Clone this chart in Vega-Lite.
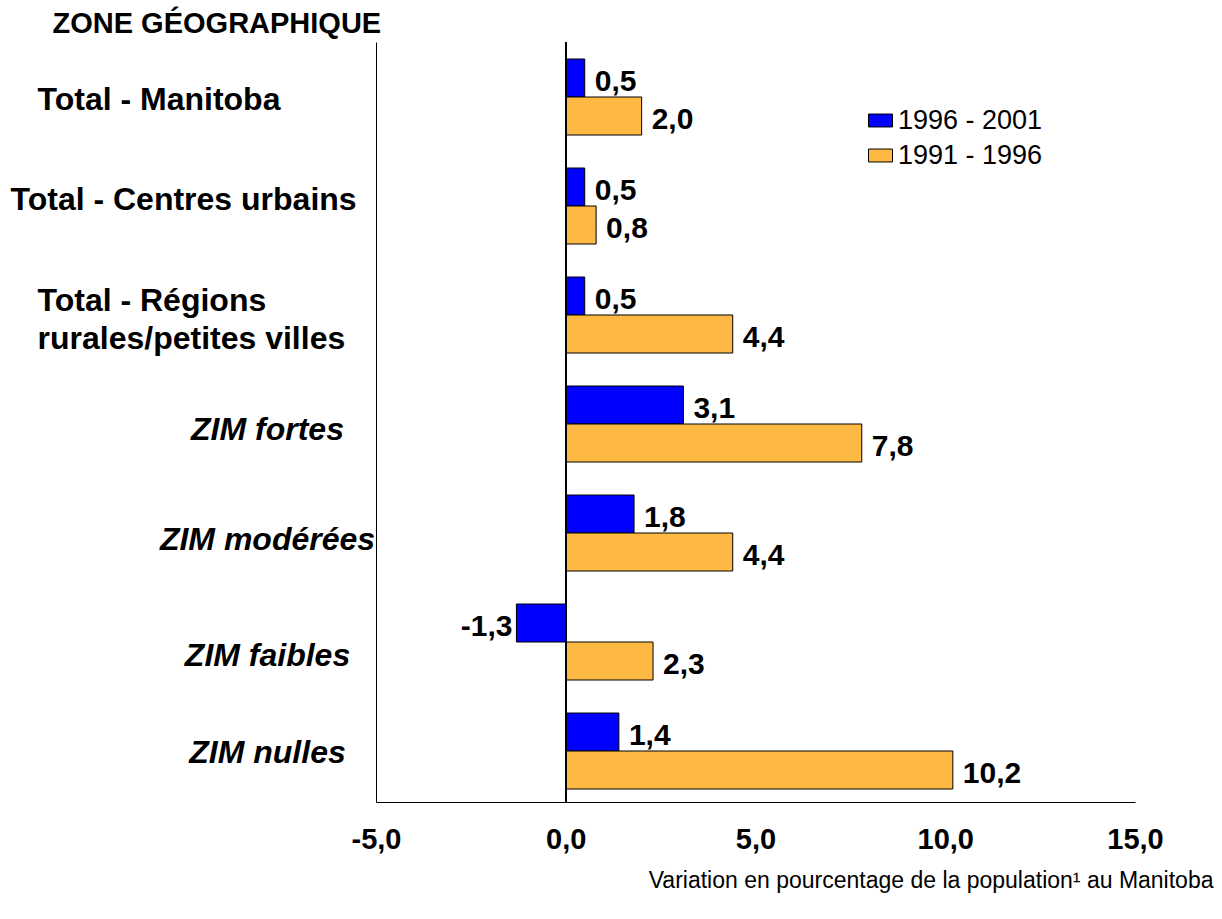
{
  "$schema": "https://vega.github.io/schema/vega-lite/v6.json",
  "autosize": "none",
  "padding": {"left": 376, "top": 42, "right": 87, "bottom": 117},
  "width": 759,
  "height": 760,
  "background": "white",
  "config": {
    "font": "Liberation Sans",
    "view": {"stroke": null},
    "locale": {"number": {"decimal": ",", "thousands": " ", "grouping": [3], "currency": ["", " €"], "minus": "-"}}
  },
  "data": {
    "values": [
      {"zone": "Total - Manitoba", "period": "1996 - 2001", "value": 0.5},
      {"zone": "Total - Manitoba", "period": "1991 - 1996", "value": 2.0},
      {"zone": "Total - Centres urbains", "period": "1996 - 2001", "value": 0.5},
      {"zone": "Total - Centres urbains", "period": "1991 - 1996", "value": 0.8},
      {"zone": "Total - Régions rurales/petites villes", "period": "1996 - 2001", "value": 0.5},
      {"zone": "Total - Régions rurales/petites villes", "period": "1991 - 1996", "value": 4.4},
      {"zone": "ZIM fortes", "period": "1996 - 2001", "value": 3.1},
      {"zone": "ZIM fortes", "period": "1991 - 1996", "value": 7.8},
      {"zone": "ZIM modérées", "period": "1996 - 2001", "value": 1.8},
      {"zone": "ZIM modérées", "period": "1991 - 1996", "value": 4.4},
      {"zone": "ZIM faibles", "period": "1996 - 2001", "value": -1.3},
      {"zone": "ZIM faibles", "period": "1991 - 1996", "value": 2.3},
      {"zone": "ZIM nulles", "period": "1996 - 2001", "value": 1.4},
      {"zone": "ZIM nulles", "period": "1991 - 1996", "value": 10.2}
    ]
  },
  "encoding": {
    "y": {
      "field": "zone",
      "type": "nominal",
      "sort": null,
      "scale": {"paddingInner": 0.3028, "paddingOuter": 0.1376, "align": 0.567},
      "axis": {
        "title": "ZONE GÉOGRAPHIQUE",
        "titleAngle": 0,
        "titleAlign": "left",
        "titleBaseline": "alphabetic",
        "titleX": -324,
        "titleY": -10,
        "titleFontSize": 29,
        "titleFontWeight": "bold",
        "titleColor": "black",
        "domainColor": "black",
        "domainWidth": 1,
        "ticks": false,
        "tickSize": 0,
        "labelFontSize": 32,
        "labelFontWeight": "bold",
        "labelColor": "black",
        "labelLimit": 500,
        "labelLineHeight": 38,
        "labelFontStyle": {"condition": {"test": "indexof(datum.value, 'ZIM') == 0", "value": "italic"}, "value": "normal"},
        "labelAlign": {"condition": {"test": "indexof(datum.value, 'ZIM') == 0", "value": "center"}, "value": "left"},
        "labelPadding": {"condition": [
          {"test": "indexof(datum.value, 'ZIM') == 0", "value": 109},
          {"test": "datum.value == 'Total - Centres urbains'", "value": 366}
        ], "value": 339},
        "labelOffset": {"condition": [
          {"test": "datum.value == 'Total - Centres urbains'", "value": -6},
          {"test": "datum.value == 'Total - Régions rurales/petites villes'", "value": -14},
          {"test": "datum.value == 'ZIM fortes'", "value": 6},
          {"test": "datum.value == 'ZIM modérées'", "value": 7},
          {"test": "datum.value == 'ZIM faibles'", "value": 14},
          {"test": "datum.value == 'ZIM nulles'", "value": 2},
          {"test": "datum.value == 'Total - Manitoba'", "value": 3}
        ], "value": 0},
        "labelExpr": "datum.value == 'Total - Régions rurales/petites villes' ? ['Total - Régions', 'rurales/petites villes'] : datum.label"
      }
    },
    "yOffset": {
      "field": "period",
      "type": "nominal",
      "sort": ["1996 - 2001", "1991 - 1996"],
      "scale": {"paddingInner": 0, "paddingOuter": 0}
    }
  },
  "layer": [
    {
      "mark": {"type": "bar", "stroke": "black", "strokeWidth": 1},
      "encoding": {
        "x": {
          "field": "value",
          "type": "quantitative",
          "scale": {"domain": [-5, 15], "nice": false, "zero": false},
          "axis": {
            "values": [-5, 0, 5, 10, 15],
            "format": ".1f",
            "grid": false,
            "ticks": false,
            "tickSize": 0,
            "domainColor": "black",
            "labelFontSize": 29,
            "labelFontWeight": "bold",
            "labelColor": "black",
            "labelPadding": 23,
            "labelFlush": false,
            "title": "Variation en pourcentage de la population¹ au Manitoba",
            "titleFontSize": 23,
            "titleFontWeight": "normal",
            "titleColor": "black",
            "titleAlign": "right",
            "titleBaseline": "alphabetic",
            "titleX": 837,
            "titleY": 85
          }
        },
        "color": {
          "field": "period",
          "type": "nominal",
          "scale": {"domain": ["1996 - 2001", "1991 - 1996"], "range": ["#0000FF", "#FDB944"]},
          "legend": {
            "title": null,
            "orient": "none",
            "legendX": 491,
            "legendY": 65,
            "padding": 0,
            "symbolType": "M-1,-0.54H1V0.54H-1Z",
            "symbolSize": 576,
            "symbolStrokeColor": "black",
            "symbolStrokeWidth": 1,
            "symbolOpacity": 1,
            "labelFontSize": 27,
            "labelColor": "black",
            "labelOffset": 4,
            "rowPadding": 7
          }
        }
      }
    },
    {
      "transform": [{"filter": "datum.value >= 0"}],
      "mark": {"type": "text", "align": "left", "baseline": "middle", "dx": 10, "dy": 4, "fontSize": 30, "fontWeight": "bold", "color": "black"},
      "encoding": {
        "x": {"field": "value", "type": "quantitative"},
        "text": {"field": "value", "type": "quantitative", "format": ".1f"}
      }
    },
    {
      "transform": [{"filter": "datum.value < 0"}],
      "mark": {"type": "text", "align": "right", "baseline": "middle", "dx": -4, "dy": 4, "fontSize": 30, "fontWeight": "bold", "color": "black"},
      "encoding": {
        "x": {"field": "value", "type": "quantitative"},
        "text": {"field": "value", "type": "quantitative", "format": ".1f"}
      }
    },
    {
      "mark": {"type": "rule", "color": "black", "strokeWidth": 1},
      "encoding": {"x": {"datum": 0}, "y": null, "yOffset": null}
    }
  ]
}
